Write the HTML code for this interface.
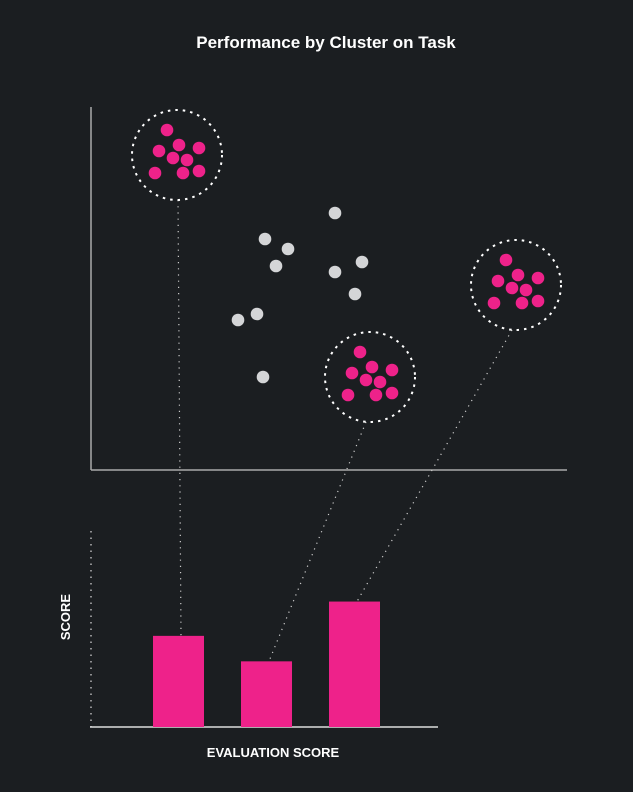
<!DOCTYPE html>
<html><head><meta charset="utf-8"><style>
html,body{margin:0;padding:0;background:#1b1e21;}
svg{display:block;font-family:"Liberation Sans",sans-serif;}
</style></head><body>
<svg id="c" width="633" height="792">
<text x="326" y="48" text-anchor="middle" fill="#fff" font-size="17" font-weight="bold">Performance by Cluster on Task</text>
<line x1="91" y1="107" x2="91" y2="470" stroke="#aaa" stroke-width="1.5"/>
<line x1="91" y1="470" x2="567" y2="470" stroke="#aaa" stroke-width="1.5"/>
<line x1="91" y1="531" x2="91" y2="727" stroke="#ddd" stroke-width="1.2" stroke-dasharray="1.5 5"/>
<line x1="90" y1="727" x2="438" y2="727" stroke="#ddd" stroke-width="1.5"/>
<text x="70" y="617" transform="rotate(-90 70 617)" text-anchor="middle" fill="#fff" font-size="13" font-weight="bold">SCORE</text>
<text x="273" y="757" text-anchor="middle" fill="#fff" font-size="13" font-weight="bold">EVALUATION SCORE</text>
<g id="g"></g>
</svg>
<script>
// scatter data (x,y units in scatter domain)
const greyX=[244,174,197,185,244,271,264,147,166,172];
const greyY=[257,231,221,204,198,208,176,150,156,93];
const clusterNames=["cluster-a","cluster-b","cluster-c"];
const clusterCX=[86,279,425];
const clusterCY=[315,93,185];
const offX=[-10,2,-18,22,-4,10,-22,6,22];
const offY=[25,10,4,7,-3,-5,-18,-18,-16];
// bar data
const barCats=["A","B","C"];
const barValues=[93,67,128];

const ns="http://www.w3.org/2000/svg",g=document.getElementById("g");
const sx=v=>91+v, sy=v=>470-v;
const bx=i=>153+i*88, by=v=>727-v*196/200;
function mk(t,a){const e=document.createElementNS(ns,t);for(const k in a)e.setAttribute(k,a[k]);g.appendChild(e);return e;}
const barW=51;
clusterCX.forEach((cx,i)=>{
  const x1=sx(cx)+(i==0?1:-4),y1=sy(clusterCY[i])+45;
  const x2=bx(i)+28,y2=by(barValues[i]);
  const l=mk("line",{x1:x1,y1:y1,x2:x2,y2:y2,stroke:"#ccc","stroke-width":1.2,"stroke-dasharray":"1.2 5"});
  
  
});
greyX.forEach((x,i)=>{
  const c=mk("circle",{cx:sx(x),cy:sy(greyY[i]),r:6.3,fill:"#d4d5d7"});
  
  
});
clusterCX.forEach((cx,i)=>{
  const ring=mk("circle",{cx:sx(cx),cy:sy(clusterCY[i]),r:45,fill:"none",stroke:"#fff","stroke-width":2,"stroke-dasharray":"2.5 5"});
  
  
  offX.forEach((ox,j)=>{
    const c=mk("circle",{cx:sx(cx+ox),cy:sy(clusterCY[i]+offY[j]),r:6.3,fill:"#ee228a"});
    
    
  });
});
barValues.forEach((v,i)=>{
  const r=mk("rect",{x:bx(i),y:by(v),width:barW,height:727-by(v),fill:"#ee228a"});
  
  
});
</script>
</body></html>
